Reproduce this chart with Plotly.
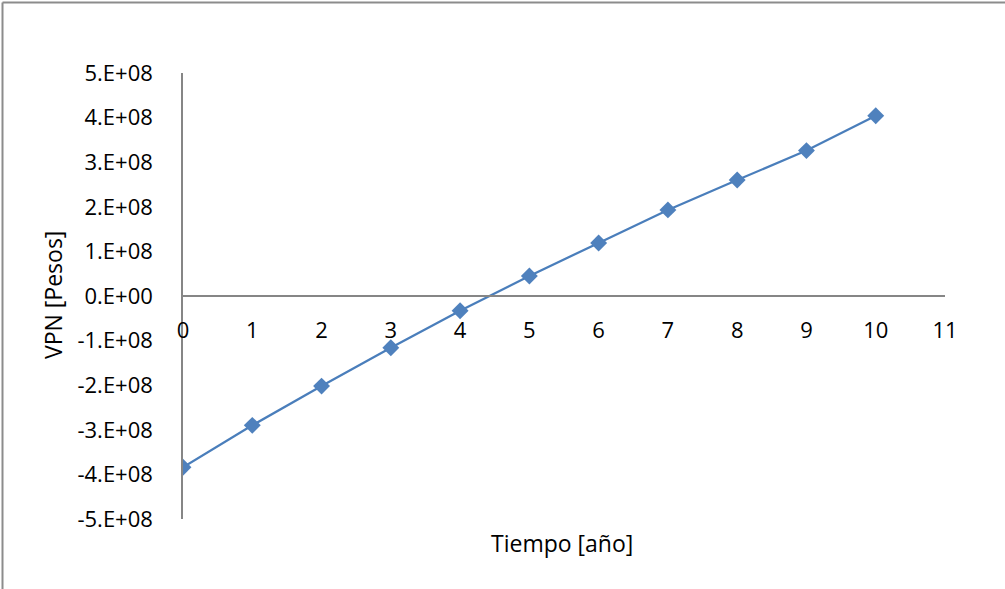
import plotly.graph_objects as go

years = [0, 1, 2, 3, 4, 5, 6, 7, 8, 9, 10]
vpn = [-3.84e8, -2.90e8, -2.02e8, -1.16e8, -0.33e8, 0.45e8, 1.19e8, 1.93e8, 2.60e8, 3.26e8, 4.04e8]

x_ticks = list(range(0, 12))
y_ticks = [5e8, 4e8, 3e8, 2e8, 1e8, 0, -1e8, -2e8, -3e8, -4e8, -5e8]
y_ticklabels = ["5.E+08", "4.E+08", "3.E+08", "2.E+08", "1.E+08", "0.E+00",
                "-1.E+08", "-2.E+08", "-3.E+08", "-4.E+08", "-5.E+08"]

W, H = 1005, 589
L, R, T, B = 183, 60, 73, 70
FONT = "Open Sans"
FS = 22
AX = "#868686"

def px(xp):
    return (xp - L) / (W - L - R)

def py(yp):
    return (H - B - yp) / (H - T - B)

fig = go.Figure()
fig.add_trace(go.Scatter(
    x=years, y=vpn, mode="lines+markers",
    line=dict(color="#4a7ebb", width=2.25),
    marker=dict(symbol="diamond", size=13, color="#4f81bd", line=dict(width=0)),
    showlegend=False,
))

fig.update_layout(
    width=W, height=H,
    margin=dict(l=L, r=R, t=T, b=B),
    paper_bgcolor="white", plot_bgcolor="white",
    font=dict(family=FONT, size=FS, color="black"),
    xaxis=dict(
        range=[0, 11], tickvals=x_ticks, ticktext=[str(v) for v in x_ticks],
        showgrid=False, zeroline=False, showline=True, linecolor=AX, linewidth=1.5,
        anchor="free", position=0.5, ticks="", ticklabelstandoff=15,
        tickfont=dict(family=FONT, size=FS),
    ),
    yaxis=dict(
        range=[-5e8, 5e8], tickvals=y_ticks, ticktext=y_ticklabels,
        showgrid=False, zeroline=False, showline=True, linecolor=AX, linewidth=1.5,
        ticks="", ticklabelstandoff=24,
        tickfont=dict(family=FONT, size=FS),
    ),
    annotations=[
        dict(text="Tiempo [año]", x=px(562), y=py(543), xref="paper", yref="paper",
             showarrow=False, xanchor="center", yanchor="middle",
             font=dict(family=FONT, size=23)),
        dict(text="VPN [Pesos]", x=px(53), y=py(295), xref="paper", yref="paper",
             showarrow=False, xanchor="center", yanchor="middle", textangle=-90,
             font=dict(family=FONT, size=23)),
    ],
    shapes=[
        dict(type="line", xref="paper", yref="paper", x0=px(2.5), x1=px(1010),
             y0=py(2.5), y1=py(2.5), line=dict(color="#8c8c8c", width=2)),
        dict(type="line", xref="paper", yref="paper", x0=px(2.5), x1=px(2.5),
             y0=py(2.5), y1=py(600), line=dict(color="#8c8c8c", width=2)),
    ],
)

fig.write_html(
    "out.html",
    config={"displayModeBar": False},
    post_script="document.body.style.margin='0';document.body.style.overflow='hidden';",
)
